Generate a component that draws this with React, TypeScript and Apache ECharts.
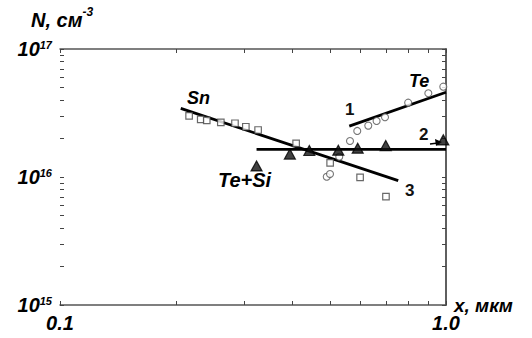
import React, { useEffect, useRef } from "react";
import * as echarts from "echarts";

const snPoints: [number, number][] = [
  [0.216, 3.0e16], [0.2315, 2.82e16], [0.24, 2.77e16], [0.261, 2.67e16],
  [0.284, 2.63e16], [0.303, 2.47e16], [0.326, 2.33e16], [0.409, 1.83e16],
  [0.501, 1.29e16], [0.599, 9.95e15], [0.699, 7.02e15],
];
const tePoints: [number, number][] = [
  [0.491, 1.005e16], [0.5006, 1.055e16], [0.529, 1.44e16], [0.564, 1.91e16],
  [0.589, 2.29e16], [0.629, 2.52e16], [0.661, 2.74e16], [0.695, 2.93e16],
  [0.798, 3.81e16], [0.9, 4.51e16], [0.984, 5.08e16],
];
const teSiPoints: [number, number][] = [
  [0.323, 1.22e16], [0.394, 1.51e16], [0.4425, 1.61e16], [0.526, 1.62e16],
  [0.5905, 1.68e16], [0.698, 1.76e16], [0.984, 1.95e16],
];
const fit1: [number, number][] = [[0.5616, 2.5e16], [1.0, 4.59e16]];
const fit2: [number, number][] = [[0.323, 1.645e16], [1.0, 1.645e16]];
const fit3: [number, number][] = [[0.2055, 3.44e16], [0.752, 9.36e15]];

const xTickValues = [0.1, 0.2, 0.3, 0.4, 0.5, 0.6, 0.7, 0.8, 0.9, 1.0];
const xLabels = [0.1, 1.0];
const yTickMantissas = [1, 2, 3, 4, 5, 6, 7, 8, 9];
const yDecades = [15, 16];
const yLabels = [1e15, 1e16, 1e17];

const FONT = "Liberation Sans";
const AXIS_COLOR = "#555";

export default function App() {
  const ref = useRef<HTMLDivElement>(null);
  useEffect(() => {
    document.body.style.margin = "0";
    if (!ref.current) return;
    const chart = echarts.init(ref.current, null, { renderer: "svg" });
    const xTickExp = xTickValues.map((v) => Math.log10(v));
    const yTickExp: number[] = [];
    yDecades.forEach((d) => yTickMantissas.forEach((m) => yTickExp.push(d + Math.log10(m))));
    yTickExp.push(17);

    const axisCommon = {
      type: "log" as const,
      logBase: 10,
      axisLine: { show: true, lineStyle: { color: AXIS_COLOR, width: 1.5 } },
      axisTick: { show: false },
      splitLine: { show: false },
      minorTick: { show: false },
    };
    const tickAxis = (custom: number[]) => ({
      type: "value" as const,
      axisLine: { show: false },
      splitLine: { show: false },
      axisLabel: { show: false },
      axisTick: { show: true, inside: true, length: 4, customValues: custom, lineStyle: { color: "#444", width: 1 } },
    });
    const textStyleBig = {
      fontFamily: FONT,
      fontWeight: "bold" as const,
      fontStyle: "italic" as const,
      color: "#000",
    };
    chart.setOption({
      animation: false,
      backgroundColor: "#fff",
      grid: { left: 60, right: 86, top: 49, bottom: 33 },
      xAxis: [
        {
          ...axisCommon,
          position: "bottom",
          min: 0.1,
          max: 1.0,
          axisLabel: {
            show: true,
            customValues: xLabels,
            margin: 8,
            formatter: (v: number) => v.toFixed(1),
            ...textStyleBig,
            fontSize: 20,
          },
        },
        { ...axisCommon, position: "top", min: 0.1, max: 1.0, axisLabel: { show: false } },
        { ...tickAxis(xTickExp), position: "bottom", min: -1, max: 0 },
        { ...tickAxis(xTickExp), position: "top", min: -1, max: 0 },
      ],
      yAxis: [
        {
          ...axisCommon,
          position: "left",
          min: 1e15,
          max: 1e17,
          axisLabel: {
            show: true,
            customValues: yLabels,
            margin: 8,
            formatter: (v: number) => "{a|10}{b|" + Math.round(Math.log10(v)) + "}",
            rich: {
              a: { ...textStyleBig, fontSize: 20, lineHeight: 20 },
              b: { ...textStyleBig, fontSize: 11, lineHeight: 8, verticalAlign: "top" },
            },
          },
        },
        { ...axisCommon, position: "right", min: 1e15, max: 1e17, axisLabel: { show: false } },
        { ...tickAxis(yTickExp), position: "left", min: 15, max: 17 },
        { ...tickAxis(yTickExp), position: "right", min: 15, max: 17 },
      ],
      series: [
        {
          type: "line",
          data: fit3,
          symbol: "none",
          lineStyle: { color: "#000", width: 2.8 },
          z: 2,
        },
        {
          type: "line",
          data: fit1,
          symbol: "none",
          lineStyle: { color: "#000", width: 2.8 },
          z: 2,
        },
        {
          type: "line",
          data: fit2,
          symbol: "none",
          lineStyle: { color: "#000", width: 2.8 },
          z: 2,
        },
        {
          type: "scatter",
          data: snPoints,
          symbol: "rect",
          symbolSize: 6.5,
          itemStyle: { color: "#fff", borderColor: "#444", borderWidth: 1.2 },
          z: 3,
        },
        {
          type: "scatter",
          data: tePoints,
          symbol: "circle",
          symbolSize: 7,
          itemStyle: { color: "#fff", borderColor: "#555", borderWidth: 1.1 },
          z: 3,
        },
        {
          type: "scatter",
          data: teSiPoints,
          symbol: "triangle",
          symbolSize: [11, 10],
          itemStyle: { color: "#111", borderColor: "#000", borderWidth: 1.2 },
          z: 4,
        },
      ],
      graphic: [
        {
          type: "text",
          left: 31,
          top: 6,
          style: {
            rich: {
              a: { ...textStyleBig, fontSize: 20, lineHeight: 24, verticalAlign: "bottom" },
              b: { ...textStyleBig, fontSize: 12, lineHeight: 12, verticalAlign: "top" },
            },
            text: "{a|N, см}{b|-3}",
          },
        },
        {
          type: "text",
          left: 454,
          top: 296,
          style: { text: "x, мкм", ...textStyleBig, fontSize: 19, fill: "#000" },
        },
        {
          type: "text",
          left: 187,
          top: 89,
          style: { text: "Sn", ...textStyleBig, fontSize: 18, fill: "#000" },
        },
        {
          type: "text",
          left: 409,
          top: 72,
          style: { text: "Te", ...textStyleBig, fontSize: 18, fill: "#000" },
        },
        {
          type: "text",
          left: 218,
          top: 170,
          style: { text: "Te+Si", ...textStyleBig, fontSize: 20, fill: "#000" },
        },
        {
          type: "text",
          left: 345,
          top: 101,
          style: { text: "1", fontFamily: FONT, fontWeight: "bold", fontSize: 17, fill: "#111" },
        },
        {
          type: "text",
          left: 419,
          top: 126,
          style: { text: "2", fontFamily: FONT, fontWeight: "bold", fontSize: 17, fill: "#111" },
        },
        {
          type: "text",
          left: 405,
          top: 182,
          style: { text: "3", fontFamily: FONT, fontWeight: "bold", fontSize: 17, fill: "#111" },
        },
        {
          type: "line",
          shape: { x1: 430, y1: 144, x2: 438, y2: 143 },
          style: { stroke: "#000", lineWidth: 1.5 },
        },
        {
          type: "polygon",
          shape: { points: [[442, 142], [435, 139], [436, 146]] },
          style: { fill: "#000" },
        },
      ],
    });
    return () => chart.dispose();
  }, []);
  return <div ref={ref} style={{ width: 532, height: 338 }} />;
}
